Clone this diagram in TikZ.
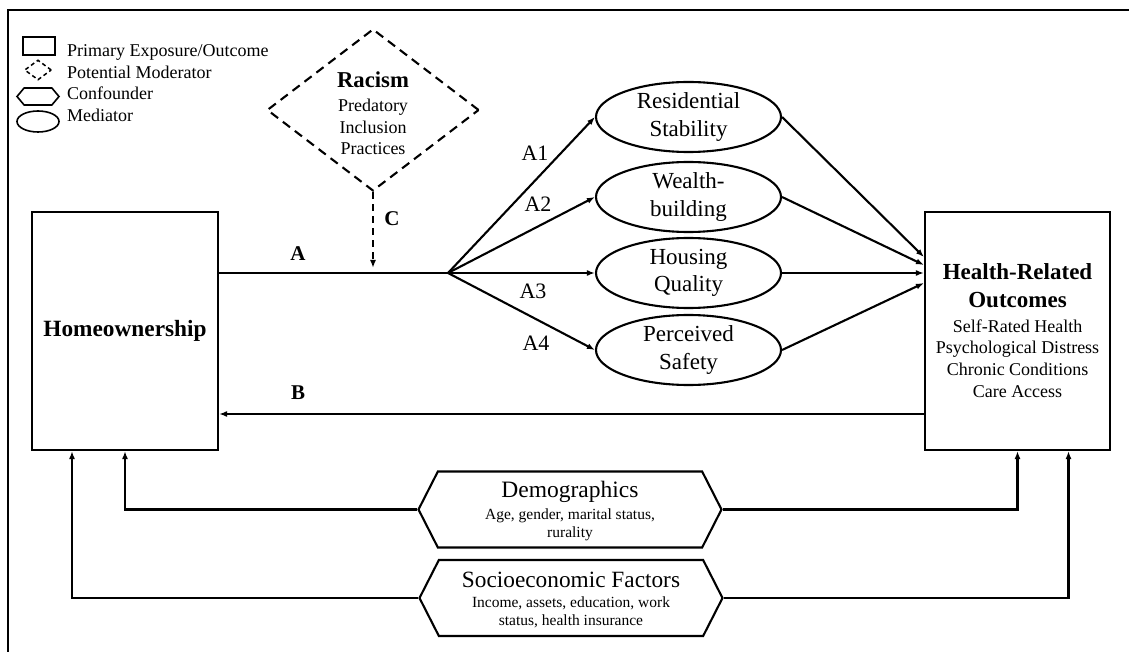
\documentclass[tikz,border=0pt]{standalone}
\usepackage{fontspec}
\setmainfont{Liberation Serif}
\usetikzlibrary{shapes.geometric,shapes.symbols,arrows.meta,calc}
\begin{document}
\begin{tikzpicture}[x=1pt,y=-1pt,
  ln/.style={line width=2.1pt},
  arr/.style={ln,-{Latex[length=8pt,width=6pt]}},
  primbox/.style={draw,ln,minimum width=186pt,minimum height=238pt,inner sep=0pt},
  medi/.style={ellipse,draw,ln,minimum width=185pt,minimum height=70pt,inner sep=0pt,align=center,font=\fontsize{23}{27.5}\selectfont},
  conf/.style={signal,signal to=west and east,signal pointer angle=126,draw,ln,minimum width=303pt,minimum height=76pt,inner sep=0pt},
  modr/.style={diamond,draw,ln,dash pattern=on 9pt off 6pt,inner sep=0pt},
  lgtext/.style={anchor=base west,inner sep=0pt,font=\fontsize{18}{21}\selectfont},
  pathlab/.style={inner sep=0pt,font=\fontsize{22}{26}\selectfont},
  keylab/.style={inner sep=0pt,font=\fontsize{21}{25}\bfseries},
  titletext/.style={inner sep=0pt,align=center,font=\fontsize{23}{28}\bfseries},
  bodytext/.style={inner sep=0pt,align=center,font=\fontsize{18}{21.7}\selectfont},
  smalltext/.style={inner sep=0pt,align=center,font=\fontsize{15.5}{17.5}\selectfont},
]
\useasboundingbox (0,0) rectangle (1129,652);
% outer frame (only top and left visible)
\draw[line width=2.6pt] (1129,10) -- (8,10) -- (8,652);

% legend
\node[draw,line width=1.6pt,minimum width=32pt,minimum height=18pt,inner sep=0pt] (lg1) at (39,46) {};
\node[modr,line width=1.5pt,dash pattern=on 4pt off 3pt,minimum width=27pt,minimum height=20pt] (lg2) at (38,70) {};
\node[signal,signal to=west and east,signal pointer angle=100,draw,line width=1.6pt,minimum width=42pt,minimum height=17pt,inner sep=0pt] (lg3) at (38,96.5) {};
\node[ellipse,draw,line width=1.6pt,minimum width=42pt,minimum height=21pt,inner sep=0pt] (lg4) at (38,121.5) {};
\node[lgtext] (lt1) at (67,57) {Primary Exposure/Outcome};
\node[lgtext] (lt2) at (67,79) {Potential Moderator};
\node[lgtext] (lt3) at (67,100) {Confounder};
\node[lgtext] (lt4) at (67,122) {Mediator};

% primary boxes
\node[primbox] (home) at (125,331) {};
\node[inner sep=0pt,font=\fontsize{23.3}{28}\bfseries] (homet) at (125,331) {Homeownership};
\node[primbox,minimum width=185pt] (health) at (1017.5,331) {};
\node[titletext] (healtht) at (1017.5,286) {Health-Related\\Outcomes};
\node[bodytext] (healthb) at (1017.5,358.5) {Self-Rated Health\\Psychological Distress\\Chronic Conditions\\Care Access};

% moderator
\node[modr,minimum width=212pt,minimum height=162pt] (rac) at (373,110) {};
\node[inner sep=0pt,font=\fontsize{22.7}{27}\bfseries] (ract) at (373,80) {Racism};
\node[inner sep=0pt,align=center,font=\fontsize{18}{21.5}\selectfont] (racb) at (373,127) {Predatory\\Inclusion\\Practices};

% mediators
\node[medi] (m1) at (688.5,117) {Residential\\Stability};
\node[medi] (m2) at (688.5,197) {Wealth-\\building};
\node[medi] (m3) at (688.5,273) {Housing\\Quality};
\node[medi] (m4) at (688.5,350) {Perceived\\Safety};

% confounders
\node[conf] (dem) at (570,509.5) {};
\node[inner sep=0pt,font=\fontsize{23.5}{28}\selectfont] (demt) at (570,492) {Demographics};
\node[smalltext] (dems) at (570,525) {Age, gender, marital status,\\rurality};
\node[conf] (ses) at (571,598) {};
\node[inner sep=0pt,font=\fontsize{23.3}{28}\selectfont] (sest) at (571,580) {Socioeconomic Factors};
\node[smalltext,font=\fontsize{15.5}{18.5}\selectfont] (sess) at (571,612.5) {Income, assets, education, work\\status, health insurance};

% path A
\coordinate (br) at (448,273);
\draw[ln] (home.east |- br) -- (br);
\draw[arr] (br) -- (m1.west);
\draw[arr] (br) -- (m2.west);
\draw[arr] (br) -- (m3.west);
\draw[arr] (br) -- (m4.west);
\draw[arr] (m1.east) -- ([yshift=74pt]health.west);
\draw[arr] (m2.east) -- ([yshift=66pt]health.west);
\draw[arr] (m3.east) -- ([yshift=58pt]health.west);
\draw[arr] (m4.east) -- ([yshift=48pt]health.west);
% path B
\draw[arr] ([yshift=-83pt]health.west) -- ([yshift=-83pt]home.east);
% path C
\draw[arr,dash pattern=on 7pt off 5pt,shorten >=5pt] (rac.south) -- (rac.south |- br);

% confounder connectors
\draw[arr] (dem.west) -| (home.south);
\draw[arr] (dem.east) -| (health.south);
\draw[arr] (ses.west) -| ([xshift=-53pt]home.south);
\draw[arr] (ses.east) -| ([xshift=51pt]health.south);

% labels
\node[keylab] (la) at (298,254) {A};
\node[keylab] (lb) at (298,393) {B};
\node[keylab] (lc) at (392,219) {C};
\node[pathlab] (la1) at (535,153) {A1};
\node[pathlab] (la2) at (538,204) {A2};
\node[pathlab] (la3) at (533,291) {A3};
\node[pathlab] (la4) at (536,343) {A4};
\end{tikzpicture}
\end{document}
